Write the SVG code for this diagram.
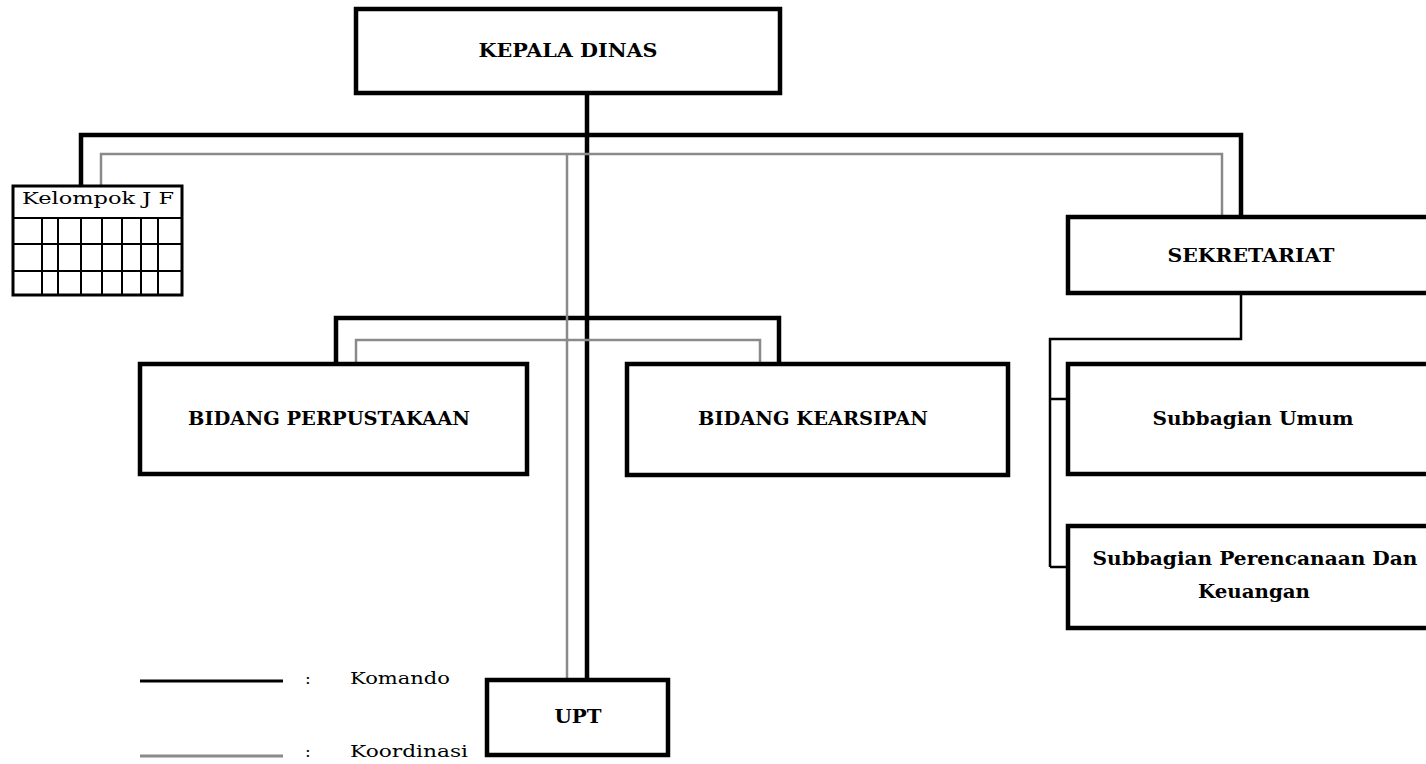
<svg xmlns="http://www.w3.org/2000/svg" width="1426" height="764" viewBox="0 0 1426 764">
<style>
.box{fill:#fff;stroke:#000;stroke-width:4.5}
.cmd{fill:none;stroke:#000;stroke-width:4.5;stroke-linejoin:miter}
.cmdthin{fill:none;stroke:#000;stroke-width:2.5}
.crd{fill:none;stroke:#8a8a8a;stroke-width:2.5}
.lbl{font-family:"DejaVu Serif","Liberation Serif",serif;font-weight:bold;font-size:18px;fill:#000;text-anchor:middle}
.reg{font-family:"DejaVu Serif","Liberation Serif",serif;font-size:17px;fill:#000}
.grid{fill:none;stroke:#000;stroke-width:2}
</style>
<rect width="1426" height="764" fill="#fff"/>
<g id="connectors">
<path class="cmd" d="M587 93V680"/>
<path class="cmd" d="M81 186V135H1241V217"/>
<path class="cmd" d="M336 364V318H779V364"/>
<path class="cmdthin" d="M1241 293V339H1050V567"/>
<path class="cmdthin" d="M1050 399H1068M1050 567H1068"/>
<path class="crd" d="M101 186V154H1222V217"/>
<path class="crd" d="M567 154V680"/>
<path class="crd" d="M356 364V340H760V364"/>
</g>
<g id="kepala-dinas">
<rect class="box" x="356" y="9" width="424" height="84"/>
<text class="lbl" x="568" y="57" textLength="179" lengthAdjust="spacingAndGlyphs">KEPALA DINAS</text>
</g>
<g id="kelompok-jf">
<rect fill="#fff" stroke="#000" stroke-width="3" x="13" y="186" width="169" height="109"/>
<path class="grid" d="M13 218H182M13 244H182M13 271H182M42 218V295M58 218V295M81 218V295M102 218V295M122 218V295M141 218V295M158 218V295"/>
<text class="reg" x="22" y="204" font-size="20" textLength="152" lengthAdjust="spacingAndGlyphs">Kelompok J F</text>
</g>
<g id="sekretariat">
<rect class="box" x="1068" y="217" width="372" height="76"/>
<text class="lbl" x="1251" y="262" textLength="167" lengthAdjust="spacingAndGlyphs">SEKRETARIAT</text>
</g>
<g id="bidang-perpustakaan">
<rect class="box" x="140" y="364" width="387" height="110"/>
<text class="lbl" x="329" y="425" textLength="282" lengthAdjust="spacingAndGlyphs">BIDANG PERPUSTAKAAN</text>
</g>
<g id="bidang-kearsipan">
<rect class="box" x="627" y="364" width="381" height="111"/>
<text class="lbl" x="813" y="425" textLength="230" lengthAdjust="spacingAndGlyphs">BIDANG KEARSIPAN</text>
</g>
<g id="subbagian-umum">
<rect class="box" x="1068" y="364" width="372" height="110"/>
<text class="lbl" x="1253" y="425" textLength="201" lengthAdjust="spacingAndGlyphs">Subbagian Umum</text>
</g>
<g id="subbagian-perencanaan">
<rect class="box" x="1068" y="526" width="372" height="102"/>
<text class="lbl" x="1255" y="565" textLength="325" lengthAdjust="spacingAndGlyphs">Subbagian Perencanaan Dan</text>
<text class="lbl" x="1254" y="598" textLength="112" lengthAdjust="spacingAndGlyphs">Keuangan</text>
</g>
<g id="upt">
<rect class="box" x="487" y="680" width="181" height="75"/>
<text class="lbl" x="578" y="723" textLength="47" lengthAdjust="spacingAndGlyphs">UPT</text>
</g>
<g id="legend">
<path stroke="#000" stroke-width="3" d="M140 681H283"/>
<path stroke="#8a8a8a" stroke-width="3" d="M140 756H283"/>
<text class="reg" x="305" y="684">:</text>
<text class="reg" x="305" y="757">:</text>
<text class="reg" x="350" y="684" textLength="100" lengthAdjust="spacingAndGlyphs">Komando</text>
<text class="reg" x="350" y="757" textLength="118" lengthAdjust="spacingAndGlyphs">Koordinasi</text>
</g>
</svg>
